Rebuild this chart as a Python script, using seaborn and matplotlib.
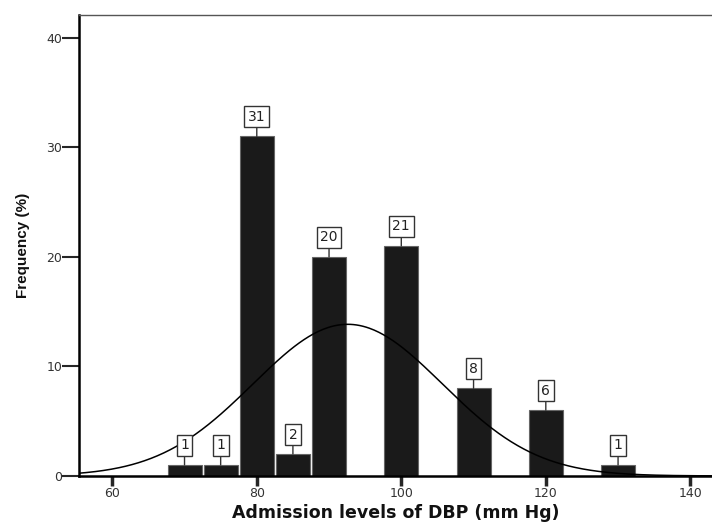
import numpy as np
import pandas as pd
import matplotlib
matplotlib.use('Agg')
import matplotlib.pyplot as plt
import seaborn as sns

# DBP bins (centre, mm Hg) and frequency counts
dbp = [70, 75, 80, 85, 90, 100, 110, 120, 130]
freq = [1, 1, 31, 2, 20, 21, 8, 6, 1]
bin_width = 5

df = pd.DataFrame({'DBP': dbp, 'Frequency': freq})

sns.set_style('ticks')
plt.rcParams['font.family'] = ['DejaVu Sans']

fig = plt.figure(figsize=(7.12, 5.23), dpi=100)
ax = fig.add_axes([0.111, 0.09, 0.889, 0.8815])

sns.barplot(data=df, x='DBP', y='Frequency', native_scale=True, width=0.94,
            color='#1a1a1a', edgecolor='#666666', linewidth=0.8,
            saturation=1, ax=ax)

# normal curve fitted to the data
vals = np.repeat(dbp, freq)
mu, sd = vals.mean(), vals.std(ddof=1)
xs = np.linspace(55, 143, 400)
ys = len(vals) * bin_width * np.exp(-0.5 * ((xs - mu) / sd) ** 2) / (sd * np.sqrt(2 * np.pi))
sns.lineplot(x=xs, y=ys, color='black', linewidth=1.1, ax=ax)

# boxed value labels
for x, v in zip(dbp, freq):
    ax.annotate(str(v), xy=(x, v), xytext=(0, 9), textcoords='offset points',
                ha='center', va='bottom', fontsize=10, color='#222222',
                bbox=dict(boxstyle='square,pad=0.25', fc='white', ec='#333333', lw=1),
                arrowprops=dict(arrowstyle='-', color='#333333', lw=1,
                                shrinkA=0, shrinkB=0))

ax.set_xlim(55.4, 143)
ax.set_ylim(0, 42.1)
ax.set_xticks([60, 80, 100, 120, 140])
ax.set_yticks([0, 10, 20, 30, 40])
ax.tick_params(axis='y', length=12, width=1.5, labelsize=9, labelcolor='#333333', pad=0)
ax.tick_params(axis='x', length=7, width=2.5, labelsize=9, labelcolor='#333333', pad=1)

for s in ['left', 'bottom']:
    ax.spines[s].set_linewidth(1.8)
    ax.spines[s].set_color('black')
ax.spines['top'].set_visible(True)
ax.spines['top'].set_color('#555555')
ax.spines['top'].set_linewidth(1)
ax.spines['right'].set_visible(False)

ax.set_xlabel('Admission levels of DBP (mm Hg)', fontsize=12.5, fontweight='bold',
              labelpad=3, color='#111111')
ax.set_ylabel('Frequency (%)', fontsize=11, fontweight='bold', labelpad=12,
              family=['Liberation Sans Narrow', 'Liberation Sans'], color='#111111')

fig.savefig('out.png', dpi=100)
